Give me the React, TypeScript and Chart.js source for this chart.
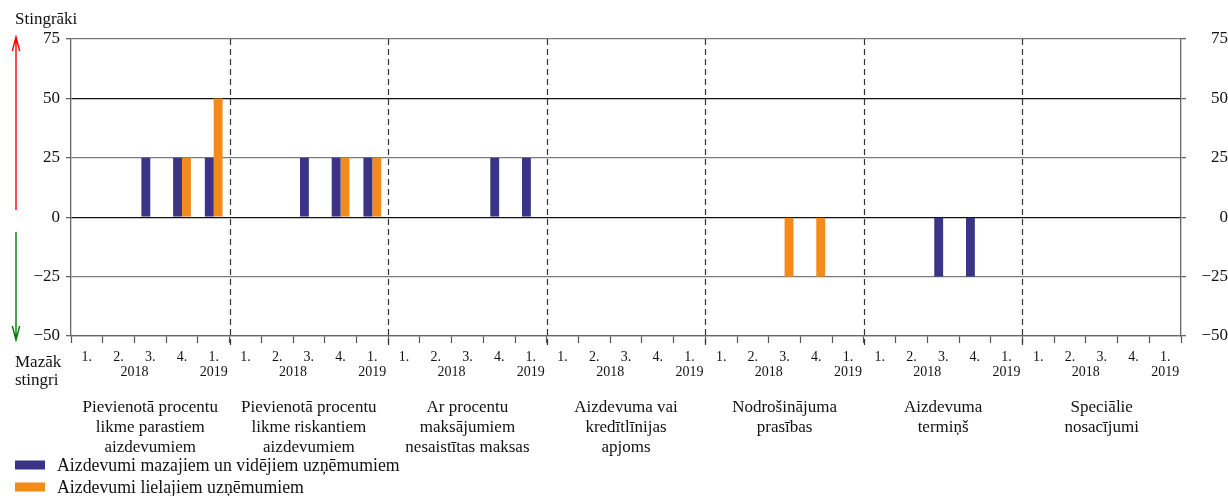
import { useEffect, useRef } from 'react';
import { Chart, registerables } from 'chart.js';

Chart.register(...registerables);

const quarterLabels = ['1.', '2.', '3.', '4.', '1.'];
const yearLabels = ['2018', '2019'];
const groupNames: string[][] = [
  ['Pievienotā procentu', 'likme parastiem', 'aizdevumiem'],
  ['Pievienotā procentu', 'likme riskantiem', 'aizdevumiem'],
  ['Ar procentu', 'maksājumiem', 'nesaistītas maksas'],
  ['Aizdevuma vai', 'kredītlīnijas', 'apjoms'],
  ['Nodrošinājuma', 'prasības'],
  ['Aizdevuma', 'termiņš'],
  ['Speciālie', 'nosacījumi'],
];
const smeValues = [
  0, 0, 25, 25, 25,
  0, 0, 25, 25, 25,
  0, 0, 0, 25, 25,
  0, 0, 0, 0, 0,
  0, 0, 0, 0, 0,
  0, 0, -25, -25, 0,
  0, 0, 0, 0, 0,
];
const largeValues = [
  0, 0, 0, 25, 50,
  0, 0, 0, 25, 25,
  0, 0, 0, 0, 0,
  0, 0, 0, 0, 0,
  0, 0, -25, -25, 0,
  0, 0, 0, 0, 0,
  0, 0, 0, 0, 0,
];
const seriesNames = [
  'Aizdevumi mazajiem un vidējiem uzņēmumiem',
  'Aizdevumi lielajiem uzņēmumiem',
];
const seriesColors = ['#3b3486', '#f28b1b'];
const yMin = -50;
const yMax = 75;
const yStep = 25;
const axisTopLabel = 'Stingrāki';
const axisBottomLabel = ['Mazāk', 'stingri'];

const categories = groupNames.flatMap((_, gi) => quarterLabels.map((q, qi) => `${gi}-${qi}-${q}`));

const FONT = '"Liberation Serif", "Times New Roman", serif';
const TEXT = '#111';

const overlayPlugin = {
  id: 'overlay',
  afterDraw(chart: any) {
    const { ctx, chartArea, scales } = chart;
    const x = scales.x;
    const px = (i: number) => x.getPixelForValue(i);
    const n = quarterLabels.length;
    ctx.save();

    // dashed group separators
    ctx.strokeStyle = '#333';
    ctx.lineWidth = 1.2;
    ctx.setLineDash([6, 4]);
    for (let g = 1; g < groupNames.length; g++) {
      const xx = Math.round((px(g * n - 1) + px(g * n)) / 2) + 0.5;
      ctx.beginPath();
      ctx.moveTo(xx, chartArea.top);
      ctx.lineTo(xx, chartArea.bottom + 9);
      ctx.stroke();
    }
    ctx.setLineDash([]);

    // x labels
    ctx.fillStyle = TEXT;
    ctx.textAlign = 'center';
    ctx.textBaseline = 'alphabetic';
    groupNames.forEach((g, gi) => {
      ctx.font = `14px ${FONT}`;
      quarterLabels.forEach((q, qi) => ctx.fillText(q, px(gi * n + qi), chartArea.bottom + 25));
      const x2018 = (px(gi * n) + px(gi * n + 3)) / 2;
      ctx.fillText(yearLabels[0], x2018, chartArea.bottom + 40);
      ctx.fillText(yearLabels[1], px(gi * n + 4), chartArea.bottom + 40);
      ctx.font = `17px ${FONT}`;
      g.forEach((line, li) => ctx.fillText(line, px(gi * n + 2), chartArea.bottom + 76 + li * 20));
    });

    // side labels
    ctx.textAlign = 'left';
    ctx.font = `17px ${FONT}`;
    ctx.fillText(axisTopLabel, 15, 24);
    ctx.fillText(axisBottomLabel[0], 15, 367);
    ctx.fillText(axisBottomLabel[1], 15, 385);

    // arrows
    ctx.lineWidth = 1.4;
    ctx.strokeStyle = '#ff0000';
    ctx.beginPath();
    ctx.moveTo(16, 210);
    ctx.lineTo(16, 37);
    ctx.moveTo(12.3, 51);
    ctx.lineTo(16, 37);
    ctx.lineTo(19.7, 51);
    ctx.stroke();
    ctx.strokeStyle = '#007a00';
    ctx.beginPath();
    ctx.moveTo(16, 232);
    ctx.lineTo(16, 340);
    ctx.moveTo(12.3, 326);
    ctx.lineTo(16, 340);
    ctx.lineTo(19.7, 326);
    ctx.stroke();

    // legend
    const legendY = [465, 487];
    seriesNames.forEach((name, i) => {
      ctx.fillStyle = seriesColors[i];
      ctx.fillRect(15, legendY[i] - 4.5, 30, 9);
      ctx.fillStyle = TEXT;
      ctx.font = `17.8px ${FONT}`;
      ctx.fillText(name, 57, legendY[i] + 6);
    });
    ctx.restore();
  },
};

const fmt = (v: any) => String(v).replace('-', '\u2212');

export default function App() {
  const ref = useRef<HTMLCanvasElement>(null);
  useEffect(() => {
    document.body.style.margin = '0';
    if (!ref.current) return;
    Chart.defaults.font.family = FONT;
    const chart = new Chart(ref.current, {
      type: 'bar',
      data: {
        labels: categories,
        datasets: [
          { label: seriesNames[0], data: smeValues, backgroundColor: seriesColors[0], borderWidth: 0 },
          { label: seriesNames[1], data: largeValues, backgroundColor: seriesColors[1], borderWidth: 0 },
        ],
      },
      options: {
        animation: false,
        responsive: true,
        maintainAspectRatio: false,
        layout: { padding: { top: 39, left: 0, right: 0, bottom: 0 } },
        datasets: { bar: { categoryPercentage: 0.56, barPercentage: 1 } },
        plugins: { legend: { display: false }, tooltip: { enabled: false } },
        scales: {
          x: {
            type: 'category',
            offset: true,
            ticks: { display: false, autoSkip: false },
            grid: { offset: true, drawOnChartArea: false, drawTicks: true, tickLength: 7, tickColor: '#555', tickWidth: 1.2 },
            border: { color: '#666', width: 1.3 },
            afterFit: (s: any) => { s.height = 160; },
          },
          y: {
            position: 'left',
            min: yMin,
            max: yMax,
            ticks: { stepSize: yStep, padding: 6, color: TEXT, font: { size: 17, family: FONT }, callback: fmt },
            grid: {
              color: (c: any) => (c.tick && (c.tick.value === 50 || c.tick.value === 0) ? '#111' : '#7a7a7a'),
              lineWidth: 1.3,
              tickLength: 5,
              tickColor: '#666',
            },
            border: { color: '#666', width: 1.3 },
            afterFit: (s: any) => { s.width = 71; },
          },
          y2: {
            position: 'right',
            min: yMin,
            max: yMax,
            ticks: { stepSize: yStep, padding: 6, crossAlign: 'far', color: TEXT, font: { size: 17, family: FONT }, callback: fmt },
            grid: { drawOnChartArea: false, tickLength: 5, tickColor: '#666', lineWidth: 1.3 },
            border: { color: '#666', width: 1.3 },
            afterFit: (s: any) => { s.width = 47; },
          },
        },
      } as any,
      plugins: [overlayPlugin],
    });
    return () => chart.destroy();
  }, []);
  return (
    <div style={{ position: 'absolute', left: 0, top: 0, width: 1228, height: 496 }}>
      <canvas ref={ref} />
    </div>
  );
}
